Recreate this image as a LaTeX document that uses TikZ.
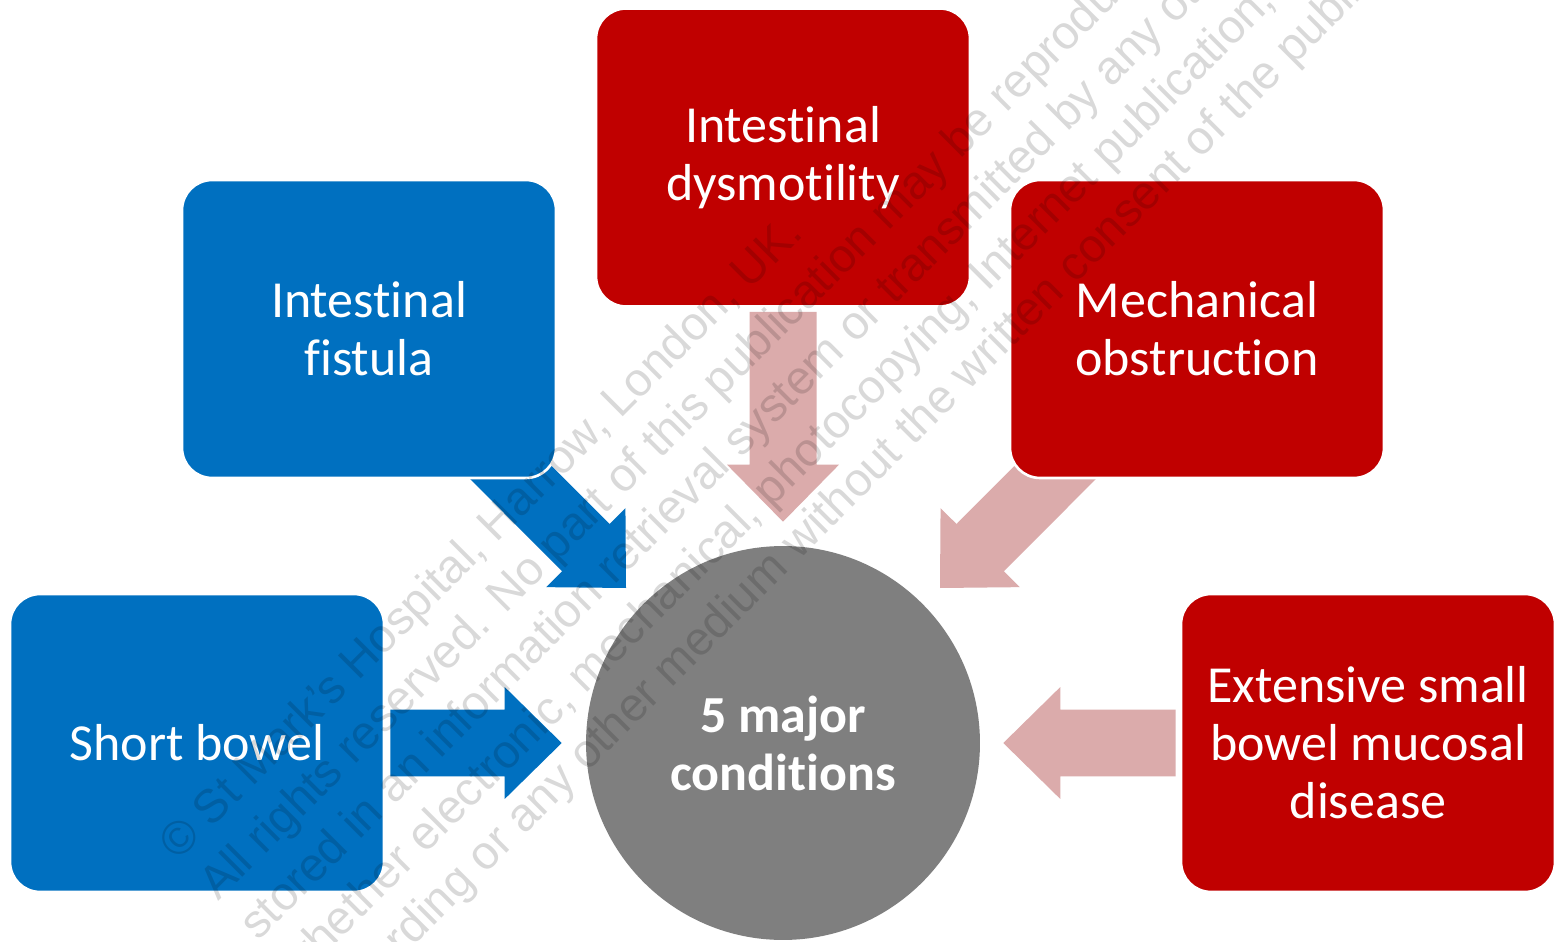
\documentclass[tikz,border=0pt]{standalone}
\usepackage{fontspec}
\setmainfont{Carlito}[Ligatures=NoCommon]
\newfontfamily\wmfont{Liberation Sans}
\definecolor{smblue}{HTML}{0070C0}
\definecolor{smred}{HTML}{C00000}
\definecolor{smpink}{HTML}{DBABAB}
\definecolor{smgrey}{HTML}{7F7F7F}
\usetikzlibrary{calc, positioning, backgrounds}

% block arrow: colour, tail, tip
\newcommand{\fatarrow}[3]{%
  \coordinate (#2-h) at ($(#3)!1.14cm!(#2)$);
  \fill[#1] ($(#2)!0.67cm!90:(#3)$) -- ($(#2-h)!0.67cm!90:(#3)$)
    -- ($(#2-h)!1.12cm!90:(#3)$) -- (#3) -- ($(#2-h)!1.12cm!-90:(#3)$)
    -- ($(#2-h)!0.67cm!-90:(#3)$) -- ($(#2)!0.67cm!-90:(#3)$) -- cycle;
}

\tikzset{
  cond/.style={rounded corners=0.6cm, draw=white, line width=1.5pt,
    minimum width=7.48cm, minimum height=5.96cm, align=center,
    text=white, font=\fontsize{29.6}{33}\selectfont},
  bluecond/.style={cond, fill=smblue},
  redcond/.style={cond, fill=smred},
  hubnode/.style={circle, fill=smgrey, minimum size=7.88cm, align=center,
    text=white, font=\bfseries\fontsize{29.6}{33}\selectfont},
  wmark/.style={rotate=45, anchor=base west, inner sep=0pt,
    text=black, text opacity=0.15, font=\wmfont\fontsize{26.7}{32}\selectfont}
}

\begin{document}
\begin{tikzpicture}[x=0.02cm, y=-0.02cm]
  \useasboundingbox (0,0) rectangle (1555,942);

  % Conditions
  \node[bluecond] (fis) at (369,329) {Intestinal\\fistula};
  \node[redcond] (dys) at (783,157.5) {Intestinal\\dysmotility};
  \node[redcond] (mech) at (1197,329) {Mechanical\\obstruction};
  \node[bluecond] (short) at (197,743) {Short bowel};
  \node[redcond] (ext) at (1368,743) {Extensive small\\bowel mucosal\\disease};
  \node[hubnode] (hub) at (783,743) {5 major\\conditions};

  % Arrows
  \coordinate (sb-tail) at ($(short.east)+(5,0)$);
  \coordinate (sb-tip) at ($(hub.west)+(-24,0)$);
  \coordinate (ex-tail) at ($(ext.west)+(-4,0)$);
  \coordinate (ex-tip) at ($(hub.east)+(23,0)$);
  \coordinate (dy-tail) at ($(dys.south)+(0,4)$);
  \coordinate (dy-tip) at ($(hub.north)+(0,-24)$);
  \coordinate (fi-tail) at ($(fis.south east)+(-66,-26.5)$);
  \coordinate (fi-tip) at ($(hub.center)+(-157,-155)$);
  \coordinate (me-tail) at ($(mech.south west)+(66,-26.5)$);
  \coordinate (me-tip) at ($(hub.center)+(157,-155)$);
  \begin{scope}[on background layer]
    \fill[white] (0,0) rectangle (1555,942);
    \fatarrow{smblue}{sb-tail}{sb-tip}
    \fatarrow{smpink}{ex-tail}{ex-tip}
    \fatarrow{smpink}{dy-tail}{dy-tip}
    \fatarrow{smblue}{fi-tail}{fi-tip}
    \fatarrow{smpink}{me-tail}{me-tip}
  \end{scope}

  % Watermark
  \begin{scope}
    \clip (0,0) rectangle (1555,942);
    \node[wmark] (wm1) at (178,862) {© St Mark’s Hospital, Harrow, London, UK.};
    \node[wmark] (wm2) at (218,902) {All rights reserved. No part of this publication may be reproduced,};
    \node[wmark] (wm3) at (258,942) {stored in an information retrieval system or transmitted by any other means,};
    \node[wmark] (wm4) at (298,982) {whether electronic, mechanical, photocopying, Internet publication,};
    \node[wmark] (wm5) at (338,1022) {recording or any other medium without the written consent of the publisher.};
  \end{scope}
\end{tikzpicture}
\end{document}
